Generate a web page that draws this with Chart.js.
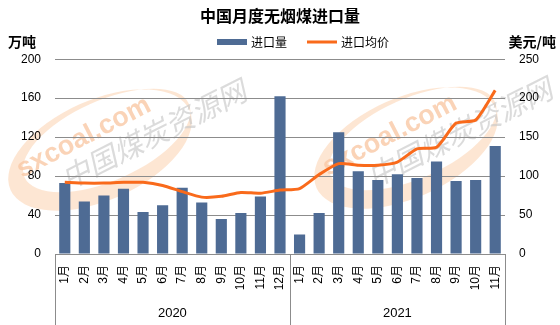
<!DOCTYPE html>
<html>
<head>
<meta charset="utf-8">
<script src="https://cdn.jsdelivr.net/npm/chart.js@4/dist/chart.umd.min.js"></script>
<style>
  html, body { margin: 0; padding: 0; background: #ffffff; }
  #wrap { width: 560px; height: 325px; position: relative; }
</style>
</head>
<body>
<div id="wrap"><canvas id="coalChart"></canvas></div>
<script>
const years = ["2020", "2021"];
const months2020 = ["1月", "2月", "3月", "4月", "5月", "6月", "7月", "8月", "9月", "10月", "11月", "12月"];
const months2021 = ["1月", "2月", "3月", "4月", "5月", "6月", "7月", "8月", "9月", "10月", "11月"];

// 进口量 (万吨)
const importVolume = [73, 54, 60, 67, 43, 50, 68, 53, 36, 42, 59, 162, 20, 42, 125, 85, 76, 82, 78, 95, 75, 76, 111];
// 进口均价 (美元/吨)
const importPrice = [92, 91, 91, 92, 92, 88, 80, 73, 74, 79, 78, 82, 84, 102, 116, 114, 114, 118, 135, 137, 168, 172, 210];

const leftTicks = [0, 40, 80, 120, 160, 200];
const rightTicks = [0, 50, 100, 150, 200, 250];

const monthGroups = [months2020, months2021];
const categories = monthGroups.flat();

const barColor = "#4e6b94";
const lineColor = "#f96a1b";
const numFont = "'Liberation Sans', 'Noto Sans CJK SC', sans-serif";
const cjkFont = "'Noto Sans CJK SC', sans-serif";

// watermark behind the plot
const watermarkPlugin = {
  id: "watermark",
  beforeDraw(chart) {
    const ctx = chart.ctx;
    const spots = [[0, 0], [306, -2]];
    spots.forEach(([dx, dy]) => {
      ctx.save();
      ctx.translate(dx, dy);
      // orange crescent
      ctx.save();
      ctx.translate(100, 150);
      ctx.rotate(-0.42);
      ctx.beginPath();
      ctx.ellipse(0, 0, 98, 50, 0, 0, Math.PI * 2);
      ctx.ellipse(10, -6, 90, 40, 0, 0, Math.PI * 2);
      ctx.fillStyle = "rgba(251, 210, 175, 0.55)";
      ctx.fill("evenodd");
      ctx.restore();
      // sxcoal.com
      ctx.save();
      ctx.translate(22, 178);
      ctx.rotate(-0.48);
      ctx.font = "bold 27px 'Liberation Sans', sans-serif";
      ctx.fillStyle = "rgba(249, 200, 165, 0.8)";
      ctx.fillText("sxcoal.com", 0, 0);
      ctx.restore();
      // 中国煤炭资源网
      ctx.save();
      ctx.translate(68, 190);
      ctx.rotate(-0.47);
      ctx.font = "italic 29px " + cjkFont;
      ctx.fillStyle = "rgba(200, 200, 200, 0.65)";
      ctx.fillText("中国煤炭资源网", 0, 0);
      ctx.restore();
      ctx.restore();
    });
  },
};

// legend, unit labels, year groups and their dividers
const axisExtrasPlugin = {
  id: "axisExtras",
  afterDraw(chart) {
    const ctx = chart.ctx;
    const x = chart.scales.x;
    const area = chart.chartArea;
    const step = x.getPixelForValue(1) - x.getPixelForValue(0);

    ctx.save();
    ctx.textBaseline = "middle";

    // legend
    const ds = chart.data.datasets;
    ctx.font = "12px " + cjkFont;
    ctx.fillStyle = barColor;
    ctx.fillRect(217, 39, 30, 6);
    ctx.fillStyle = "#000000";
    ctx.textAlign = "left";
    ctx.fillText(ds[0].label, 251, 42);
    ctx.fillStyle = lineColor;
    ctx.fillRect(307, 40.5, 30, 3);
    ctx.fillStyle = "#000000";
    ctx.fillText(ds[1].label, 341, 42);

    ctx.font = "bold 14px " + cjkFont;
    ctx.fillText("万吨", 8, 42);
    ctx.textAlign = "right";
    ctx.fillText("美元/吨", 556, 42);

    ctx.strokeStyle = "#8c8c8c";
    ctx.lineWidth = 1;
    ctx.font = "13px " + numFont;
    ctx.textAlign = "center";
    let start = 0;
    monthGroups.forEach((group, g) => {
      const first = x.getPixelForValue(start) - step / 2;
      const last = x.getPixelForValue(start + group.length - 1) + step / 2;
      ctx.fillStyle = "#000000";
      ctx.fillText(years[g], (first + last) / 2, 313);
      [first, last].forEach((px) => {
        const p = Math.round(px) + 0.5;
        ctx.beginPath();
        ctx.moveTo(p, area.bottom);
        ctx.lineTo(p, chart.height);
        ctx.stroke();
      });
      start += group.length;
    });
    ctx.restore();
  },
};

const ctx = document.getElementById("coalChart").getContext("2d");
new Chart(ctx, {
  type: "bar",
  data: {
    labels: categories,
    datasets: [
      {
        type: "bar",
        label: "进口量",
        data: importVolume,
        yAxisID: "y",
        backgroundColor: barColor,
        categoryPercentage: 1,
        barPercentage: 0.57,
        order: 1,
      },
      {
        type: "line",
        label: "进口均价",
        data: importPrice,
        yAxisID: "y1",
        borderColor: lineColor,
        backgroundColor: lineColor,
        borderWidth: 3,
        pointRadius: 0,
        tension: 0.2,
        order: 0,
      },
    ],
  },
  options: {
    responsive: true,
    maintainAspectRatio: false,
    animation: false,
    plugins: {
      title: {
        display: true,
        text: "中国月度无烟煤进口量",
        color: "#000000",
        font: { family: cjkFont, size: 16, weight: "bold" },
        padding: { top: 6, bottom: 34 },
      },
      legend: { display: false },
      tooltip: { enabled: false },
    },
    scales: {
      x: {
        grid: { display: false },
        border: { color: "#8c8c8c" },
        ticks: {
          color: "#000000",
          font: { family: numFont, size: 12 },
          minRotation: 90,
          maxRotation: 90,
          autoSkip: false,
          padding: 3,
        },
        afterFit(scale) {
          scale.height = 71;
        },
      },
      y: {
        position: "left",
        min: 0,
        max: 200,
        afterBuildTicks(scale) {
          scale.ticks = leftTicks.map((v) => ({ value: v }));
        },
        grid: { color: "#8c8c8c", drawTicks: false },
        border: { display: false },
        ticks: {
          color: "#000000",
          font: { family: numFont, size: 12 },
          padding: 14,
        },
        afterFit(scale) {
          scale.width = 55;
        },
      },
      y1: {
        position: "right",
        min: 0,
        max: 250,
        afterBuildTicks(scale) {
          scale.ticks = rightTicks.map((v) => ({ value: v }));
        },
        grid: { display: false, drawTicks: false },
        border: { display: false },
        ticks: {
          color: "#000000",
          font: { family: numFont, size: 12 },
          padding: 14,
        },
        afterFit(scale) {
          scale.width = 55;
        },
      },
    },
  },
  plugins: [watermarkPlugin, axisExtrasPlugin],
});
</script>
</body>
</html>
